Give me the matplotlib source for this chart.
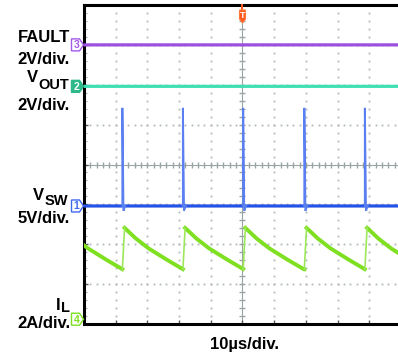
import numpy as np
import matplotlib
matplotlib.use("Agg")
import matplotlib.pyplot as plt
from matplotlib.patches import Polygon
import matplotlib.transforms as mtransforms

# ---------------- data ----------------
time_per_div_us = 10.0
# switching-node spike instants (µs); first one is off-screen to the left
spike_times_us = [-7.0, 12.1, 31.2, 50.2, 69.5, 88.6]
vsw_base_V = 0.0
vsw_spike_V = 12.3
vsw_dip_V = -0.6
fault_V = 0.0
vout_V = 0.0
# inductor current decay after each switching event: offset (µs) -> current (A)
il_offset_us = [0.7, 4.0, 8.0, 13.0, 19.2]
il_current_A = [4.58, 4.08, 3.58, 3.08, 2.50]
il_rise_us = 0.7

# scope settings: volts (or amps) per division and ground-marker level (div)
scale = {"FAULT": 2.0, "VOUT": 2.0, "VSW": 5.0, "IL": 2.0}
offset = {"FAULT": 3.0, "VOUT": 1.96, "VSW": -1.04, "IL": -3.88}

W, H = 398, 360
fig = plt.figure(figsize=(W / 100, H / 100), dpi=100)
fig.patch.set_facecolor("white")

def px(x, y):
    return (x / W, 1 - y / H)

ax_l, ax_t, ax_b = 84, 5, 324
div_px = 31.7
ax = fig.add_axes([ax_l / W, 1 - ax_b / H, 10 * div_px / W, (ax_b - ax_t) / H])
ax.set_xlim(0, 10 * time_per_div_us)
ax.set_ylim(-4, 4)
ax.set_facecolor("white")
for s in ax.spines.values():
    s.set_linewidth(2.2)
    s.set_color("black")

ax.set_xticks(np.arange(0, 101, 10))
ax.set_yticks(np.arange(-4, 5, 1))
ax.set_yticks(np.arange(-4, 4.01, 0.2), minor=True)
ax.tick_params(which="major", direction="in", length=3, width=1, color="#555555",
               labelbottom=False, labelleft=False, top=False, right=False)
ax.tick_params(which="minor", direction="in", length=2.5, width=0.8, color="#aaaaaa",
               left=True, bottom=False)

gcol = "#b0b8b8"
# dotted grid
ydots = np.arange(-4, 4.001, 0.2)
xdots = np.arange(0, 100.001, 2.0)
for gx in range(10, 100, 10):
    if gx == 50:
        continue
    ax.plot(np.full_like(ydots, gx), ydots, ls="none", marker="s", ms=1.3, mew=0, color=gcol, zorder=1)
for gy in range(-3, 4):
    if gy == 0:
        continue
    ax.plot(xdots, np.full_like(xdots, gy), ls="none", marker="s", ms=1.3, mew=0, color=gcol, zorder=1)
# center crosshair with tick marks
ccol = "#9aa4a4"
ax.axhline(0, color=ccol, lw=0.8, zorder=1)
ax.axvline(50, color=ccol, lw=0.8, zorder=1)
ax.plot(xdots, np.zeros_like(xdots), ls="none", marker="|", ms=4, mew=1.0, color=ccol, zorder=1)
ax.plot(np.full_like(ydots, 50), ydots, ls="none", marker="_", ms=4, mew=1.0, color=ccol, zorder=1)

# ---------------- traces ----------------
def to_div(v, ch):
    return np.asarray(v) / scale[ch] + offset[ch]

t = np.linspace(0, 100, 4001)
purple = "#9d4fe0"
teal = "#40dfb2"
blue = "#2453e6"
green = "#7fe021"

ax.plot(t, to_div(np.full_like(t, fault_V), "FAULT"), color=purple, lw=2.3, zorder=3)
ax.plot(t, to_div(np.full_like(t, vout_V), "VOUT"), color=teal, lw=2.3, zorder=3)
ax.plot(t, to_div(np.full_like(t, vsw_base_V), "VSW"), color=blue, lw=2.3, zorder=4)
for ts in spike_times_us:
    ax.plot([ts, ts, ts + 0.35, ts + 0.9],
            to_div([vsw_base_V, vsw_spike_V, vsw_dip_V, vsw_base_V], "VSW"),
            color="#5a7ff0", lw=1.4, zorder=4, solid_joinstyle="miter")

# inductor current
st = np.array(spike_times_us)
idx = np.searchsorted(st, t, side="right") - 1
off = t - st[idx]
il = np.interp(off, il_offset_us, il_current_A)
valley = il_current_A[-1]
rising = off < il_rise_us
il_rise = valley + (il_current_A[0] - valley) * off / il_rise_us
il_full = np.where(rising, il_rise, il)
il_decay = np.where(rising, np.nan, il_full)
ax.plot(t, to_div(il_decay, "IL"), color=green, lw=2.8, zorder=3)
for ts in spike_times_us:
    if 0 < ts < 100:
        ax.plot([ts, ts + il_rise_us], to_div([valley, il_current_A[0]], "IL"),
                color="#9ce85a", lw=1.2, zorder=3)

# ---------------- channel ground markers ----------------
def gnd_marker(level, label, color, filled):
    yc_px = ax_b - (level + 4) / 8 * (ax_b - ax_t)
    x0, x1, x2 = 71.5, 79.5, 83.5
    hh = 6
    verts = [px(x0, yc_px - hh), px(x1, yc_px - hh), px(x2, yc_px), px(x1, yc_px + hh), px(x0, yc_px + hh)]
    fig.patches.append(Polygon(verts, closed=True, transform=fig.transFigure,
                               fc=color if filled else "white", ec=color, lw=1.0, zorder=5))
    fig.text(*px(76.5, yc_px + 0.5), label, ha="center", va="center", fontsize=7.5,
             fontweight="bold", family="Liberation Sans",
             color="white" if filled else color, zorder=6)

gnd_marker(offset["FAULT"], "3", "#a35ae8", False)
gnd_marker(offset["VOUT"], "2", "#2fb98a", True)
gnd_marker(offset["VSW"], "1", "#3f6af0", False)
gnd_marker(offset["IL"], "4", "#7fe021", False)

# trigger marker
trans = mtransforms.blended_transform_factory(ax.transData, fig.transFigure)
tx = 50.0
w_half = 0.95
tri = [(tx - w_half, 1 - 10 / H), (tx + w_half, 1 - 10 / H), (tx + w_half, 1 - 19 / H),
       (tx, 1 - 23 / H), (tx - w_half, 1 - 19 / H)]
fig.patches.append(Polygon(tri, closed=True, transform=trans, fc="#ff5b1e", ec="#ff7a40", lw=0.8, zorder=7))
fig.lines.append(plt.Line2D([tx, tx], [1 - 5 / H, 1 - 10 / H], transform=trans, color="#ff5b1e", lw=1.5, zorder=7))
fig.text(tx, 1 - 15.5 / H, "T", transform=trans, ha="center", va="center", fontsize=6.5,
         fontweight="bold", color="white", family="Liberation Sans", zorder=8)

# ---------------- labels ----------------
fkw = dict(family="Liberation Sans", fontweight="bold", color="black")
big, small = 12, 10.5
fig.text(*px(70, 42), "FAULT", ha="right", va="baseline", fontsize=big, **fkw)
fig.text(*px(70, 64.5), "2V/div.", ha="right", va="baseline", fontsize=big, **fkw)
fig.text(*px(27, 82), "V", ha="left", va="baseline", fontsize=big, **fkw)
fig.text(*px(38, 89), "OUT", ha="left", va="baseline", fontsize=small, **fkw)
fig.text(*px(70, 110), "2V/div.", ha="right", va="baseline", fontsize=big, **fkw)
fig.text(*px(33, 200), "V", ha="left", va="baseline", fontsize=big, **fkw)
fig.text(*px(45, 205), "SW", ha="left", va="baseline", fontsize=small, **fkw)
fig.text(*px(70, 223), "5V/div.", ha="right", va="baseline", fontsize=big, **fkw)
fig.text(*px(56, 309.5), "I", ha="left", va="baseline", fontsize=big, **fkw)
fig.text(*px(61.5, 312.5), "L", ha="left", va="baseline", fontsize=small, **fkw)
fig.text(*px(70, 328), "2A/div.", ha="right", va="baseline", fontsize=big, **fkw)
fig.text(*px(245, 349), "10µs/div.", ha="center", va="baseline", fontsize=12, **fkw)

fig.savefig("out.png", dpi=100, facecolor="white")
